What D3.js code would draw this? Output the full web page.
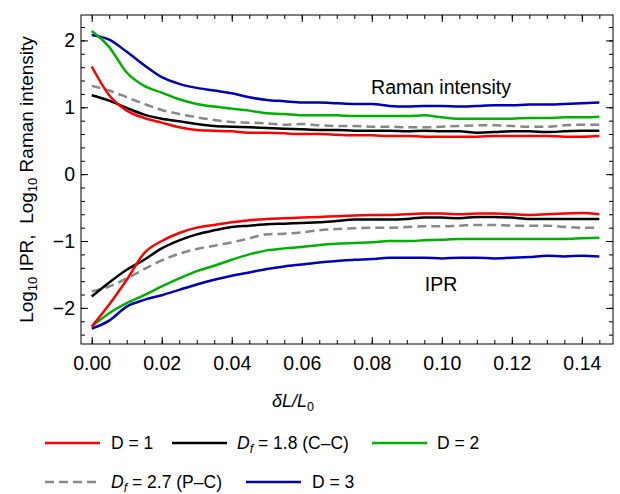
<!DOCTYPE html>
<html>
<head>
<meta charset="utf-8">
<script src="https://cdn.jsdelivr.net/npm/d3@7"></script>
<style>
  body { margin: 0; background: #fff; }
  text { font-family: "Liberation Sans", Arial, sans-serif; fill: #000; }
</style>
</head>
<body>
<div id="chart"></div>
<script>
  'use strict';

  // strain values, 0 .. 0.145 step 0.005
  var strain = [0, 0.005, 0.01, 0.015, 0.02, 0.025, 0.03, 0.035, 0.04, 0.045,
                0.05, 0.055, 0.06, 0.065, 0.07, 0.075, 0.08, 0.085, 0.09, 0.095,
                0.10, 0.105, 0.11, 0.115, 0.12, 0.125, 0.13, 0.135, 0.14, 0.145];

  // Log10 Raman intensity
  var ramanD1 = [1.61, 1.18, 0.95, 0.84, 0.77, 0.70, 0.66, 0.65, 0.64, 0.62,
                 0.62, 0.61, 0.60, 0.60, 0.59, 0.58, 0.58, 0.57, 0.57, 0.56,
                 0.56, 0.56, 0.56, 0.57, 0.57, 0.57, 0.57, 0.56, 0.56, 0.57];
  var ramanCC = [1.18, 1.10, 0.99, 0.89, 0.83, 0.79, 0.75, 0.72, 0.71, 0.70,
                 0.69, 0.68, 0.67, 0.66, 0.66, 0.65, 0.65, 0.65, 0.64, 0.65,
                 0.64, 0.64, 0.62, 0.63, 0.64, 0.64, 0.63, 0.64, 0.65, 0.65];
  var ramanD2 = [2.14, 1.90, 1.52, 1.32, 1.22, 1.12, 1.05, 1.01, 0.98, 0.95,
                 0.91, 0.90, 0.88, 0.88, 0.88, 0.87, 0.87, 0.87, 0.87, 0.88,
                 0.85, 0.83, 0.83, 0.83, 0.83, 0.84, 0.84, 0.85, 0.85, 0.86];
  var ramanPC = [1.32, 1.25, 1.15, 1.05, 0.96, 0.90, 0.85, 0.81, 0.78, 0.77,
                 0.76, 0.74, 0.75, 0.73, 0.72, 0.72, 0.71, 0.71, 0.70, 0.70,
                 0.71, 0.72, 0.73, 0.73, 0.72, 0.71, 0.71, 0.73, 0.74, 0.74];
  var ramanD3 = [2.08, 2.01, 1.83, 1.63, 1.45, 1.35, 1.29, 1.25, 1.21, 1.15,
                 1.11, 1.09, 1.07, 1.07, 1.06, 1.05, 1.05, 1.02, 1.01, 1.02,
                 1.02, 1.01, 1.02, 1.03, 1.03, 1.04, 1.04, 1.05, 1.06, 1.07];

  // Log10 IPR
  var iprD1 = [-2.28, -1.95, -1.58, -1.18, -1.00, -0.88, -0.80, -0.76, -0.72, -0.69,
               -0.67, -0.66, -0.65, -0.64, -0.63, -0.62, -0.61, -0.61, -0.60, -0.59,
               -0.59, -0.60, -0.59, -0.59, -0.60, -0.61, -0.60, -0.59, -0.58, -0.60];
  var iprCC = [-1.83, -1.62, -1.43, -1.28, -1.11, -0.99, -0.90, -0.84, -0.79, -0.77,
               -0.75, -0.74, -0.73, -0.72, -0.70, -0.68, -0.68, -0.68, -0.67, -0.65,
               -0.65, -0.66, -0.64, -0.64, -0.65, -0.67, -0.67, -0.67, -0.67, -0.67];
  var iprD2 = [-2.28, -2.08, -1.93, -1.81, -1.68, -1.56, -1.45, -1.37, -1.28, -1.20,
               -1.14, -1.11, -1.09, -1.06, -1.04, -1.03, -1.02, -1.00, -1.00, -0.99,
               -0.98, -0.97, -0.97, -0.97, -0.97, -0.97, -0.97, -0.97, -0.96, -0.95];
  var iprPC = [-1.75, -1.68, -1.56, -1.42, -1.29, -1.19, -1.12, -1.07, -1.02, -0.96,
               -0.90, -0.89, -0.87, -0.84, -0.82, -0.81, -0.80, -0.80, -0.79, -0.78,
               -0.78, -0.77, -0.76, -0.76, -0.77, -0.77, -0.77, -0.79, -0.80, -0.80];
  var iprD3 = [-2.31, -2.19, -1.98, -1.88, -1.81, -1.73, -1.65, -1.58, -1.52, -1.47,
               -1.42, -1.38, -1.35, -1.32, -1.30, -1.28, -1.27, -1.25, -1.25, -1.25,
               -1.26, -1.25, -1.25, -1.26, -1.25, -1.24, -1.22, -1.23, -1.22, -1.23];

  var xTicks = [0, 0.02, 0.04, 0.06, 0.08, 0.10, 0.12, 0.14];
  var yTicks = [-2, -1, 0, 1, 2];

  (function () {
    var series = [
      { name: "D1", color: "#ff0000", dash: null, raman: ramanD1, ipr: iprD1 },
      { name: "CC", color: "#000000", dash: null, raman: ramanCC, ipr: iprCC },
      { name: "D2", color: "#00b000", dash: null, raman: ramanD2, ipr: iprD2 },
      { name: "PC", color: "#888888", dash: "9,5", raman: ramanPC, ipr: iprPC },
      { name: "D3", color: "#0000b4", dash: null, raman: ramanD3, ipr: iprD3 }
    ];

    var W = 620, H = 494;
    var pl = 81, pr = 613, pt = 15, pb = 344;

    var svg = d3.select("#chart").append("svg")
        .attr("width", W).attr("height", H);

    var x = d3.scaleLinear().domain([-0.00306, 0.1489]).range([pl, pr]);
    var y = d3.scaleLinear().domain([-2.54, 2.38]).range([pb, pt]);

    var xMinor = d3.range(0, 0.1475, 0.005);
    var yMinor = d3.range(-2.4, 2.31, 0.2);

    function tickGroup(axis, tx, ty) {
      var g = svg.append("g")
        .attr("transform", "translate(" + tx + "," + ty + ")")
        .call(axis);
      g.select(".domain").remove();
      g.attr("font-family", null).attr("font-size", null);
      g.selectAll("line").attr("stroke", "#000").attr("stroke-width", 1);
      g.selectAll("text").attr("fill", null).style("font-size", "19.5px");
      return g;
    }

    // minor ticks on all four sides
    tickGroup(d3.axisBottom(x).tickValues(xMinor).tickSize(-4).tickFormat(""), 0, pb);
    tickGroup(d3.axisTop(x).tickValues(xMinor).tickSize(-4).tickFormat(""), 0, pt);
    tickGroup(d3.axisLeft(y).tickValues(yMinor).tickSize(-4).tickFormat(""), pl, 0);
    tickGroup(d3.axisRight(y).tickValues(yMinor).tickSize(-4).tickFormat(""), pr, 0);

    // major ticks
    tickGroup(d3.axisBottom(x).tickValues(xTicks).tickSize(-7)
        .tickPadding(12).tickFormat(d3.format(".2f")), 0, pb);
    tickGroup(d3.axisTop(x).tickValues(xTicks).tickSize(-7).tickFormat(""), 0, pt);
    tickGroup(d3.axisLeft(y).tickValues(yTicks).tickSize(-7)
        .tickPadding(6).tickFormat(function(d) { return d < 0 ? "\u2212" + (-d) : d; }), pl, 0);
    tickGroup(d3.axisRight(y).tickValues(yTicks).tickSize(-7).tickFormat(""), pr, 0);

    svg.append("rect")
      .attr("x", pl).attr("y", pt)
      .attr("width", pr - pl).attr("height", pb - pt)
      .attr("fill", "none").attr("stroke", "#000").attr("stroke-width", 1);

    svg.append("clipPath").attr("id", "plotclip")
      .append("rect").attr("x", pl).attr("y", pt)
      .attr("width", pr - pl).attr("height", pb - pt);

    function drawLine(vals, s) {
      var line = d3.line()
        .x(function(d, i) { return x(strain[i]); })
        .y(function(d) { return y(d); })
        .curve(d3.curveMonotoneX);
      svg.append("path")
        .datum(vals)
        .attr("clip-path", "url(#plotclip)")
        .attr("d", line)
        .attr("fill", "none")
        .attr("stroke", s.color)
        .attr("stroke-width", 2.5)
        .attr("stroke-dasharray", s.dash)
        .attr("stroke-linejoin", "round");
    }

    // draw order: gray, blue, green, black, red on top
    [3, 4, 2, 1, 0].forEach(function(k) {
      drawLine(series[k].raman, series[k]);
      drawLine(series[k].ipr, series[k]);
    });

    svg.append("text").attr("x", 441).attr("y", 94)
      .attr("text-anchor", "middle").style("font-size", "19.5px")
      .text("Raman intensity");
    svg.append("text").attr("x", 441).attr("y", 291)
      .attr("text-anchor", "middle").style("font-size", "19.5px")
      .text("IPR");

    // y axis title
    var yt = svg.append("text")
      .attr("transform", "translate(33," + ((pt + pb) / 2) + ") rotate(-90)")
      .attr("text-anchor", "middle").style("font-size", "19px");
    yt.append("tspan").text("Log");
    yt.append("tspan").attr("dy", 4).style("font-size", "13px").text("10");
    yt.append("tspan").attr("dy", -4).text(" IPR,\u00a0 Log");
    yt.append("tspan").attr("dy", 4).style("font-size", "13px").text("10");
    yt.append("tspan").attr("dy", -4).text(" Raman intensity");

    // x axis title
    var xt = svg.append("text").attr("x", 293).attr("y", 407)
      .attr("text-anchor", "middle").style("font-size", "18px");
    xt.append("tspan").style("font-style", "italic").text("\u03b4L/L");
    xt.append("tspan").attr("dy", 4).style("font-size", "12.5px").text("0");

    // legend
    var legendPos = [
      { k: 0, lx: 45, ly: 443, tx: 111 },
      { k: 1, lx: 172, ly: 443, tx: 237 },
      { k: 2, lx: 372, ly: 443, tx: 437 },
      { k: 3, lx: 45, ly: 482, tx: 111 },
      { k: 4, lx: 246, ly: 482, tx: 312 }
    ];
    legendPos.forEach(function(p) {
      var s = series[p.k];
      svg.append("line")
        .attr("x1", p.lx).attr("x2", p.lx + 55)
        .attr("y1", p.ly).attr("y2", p.ly)
        .attr("stroke", s.color).attr("stroke-width", 2.5)
        .attr("stroke-dasharray", s.dash);
      var t = svg.append("text").attr("x", p.tx).attr("y", p.ly + 6)
        .style("font-size", "17.5px");
      if (s.name === "CC" || s.name === "PC") {
        t.append("tspan").style("font-style", "italic").text("D");
        t.append("tspan").attr("dy", 4).style("font-size", "12.5px")
          .style("font-style", "italic").text("f");
        t.append("tspan").attr("dy", -4)
          .text(s.name === "CC" ? " = 1.8 (C\u2013C)" : " = 2.7 (P\u2013C)");
      } else {
        t.text("D = " + s.name.slice(1));
      }
    });
  })();
</script>
</body>
</html>
